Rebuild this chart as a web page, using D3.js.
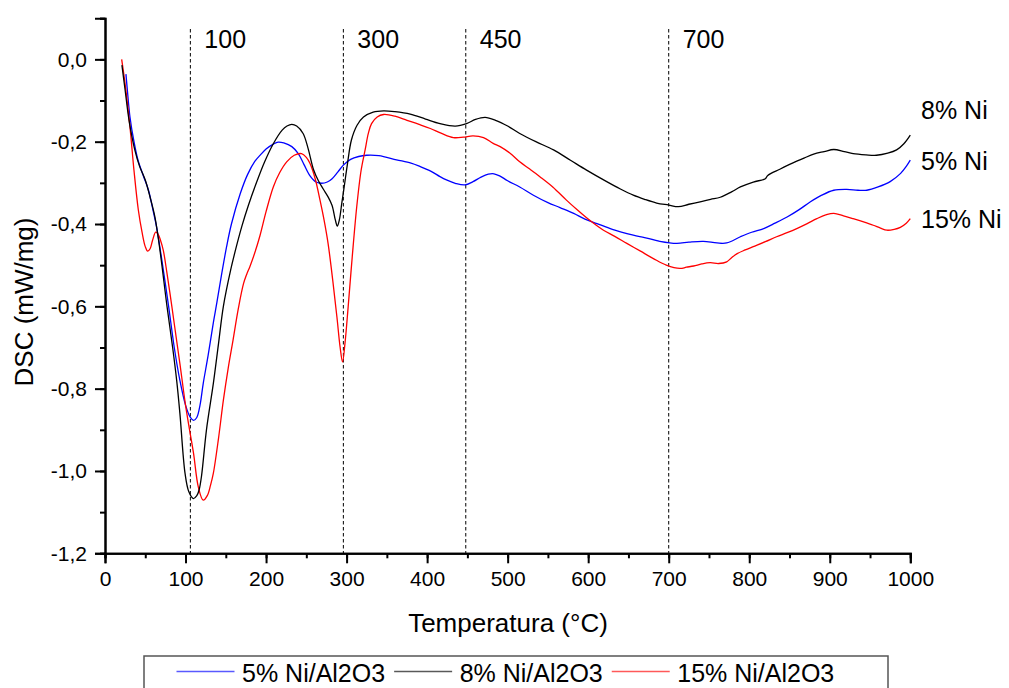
<!DOCTYPE html>
<html>
<head>
<meta charset="utf-8">
<script src="https://cdn.jsdelivr.net/npm/d3@7"></script>
<style>
  html, body { margin: 0; padding: 0; background: #fff; }
  svg { display: block; font-family: "Liberation Sans", Arial, Helvetica, sans-serif; }
</style>
</head>
<body>
<svg id="chart" width="1009" height="688"></svg>
<script>
// DSC curves, temperature (°C) vs heat flow (mW/mg)
const temp5 = [26, 28, 31, 36, 41, 48, 54, 60, 64, 70, 79, 86, 93, 100, 106, 110, 114, 118, 122, 128, 134.5, 139, 145, 151, 157, 168, 177, 186, 193, 200, 209, 215, 222, 232, 240, 247, 254.6, 262, 269, 276, 282, 289, 296, 305, 315, 325, 340, 362, 380, 391, 405, 416, 424, 435, 447, 457, 467, 476, 483, 490, 500, 515, 532, 550, 565, 582, 596, 611, 630, 656, 670, 689, 710, 725, 743, 760, 772, 789, 803, 818, 832, 847, 862, 876, 890, 905, 921, 935, 946, 960, 975, 988, 995, 1000];
const dsc5 = [-0.036, -0.08, -0.14, -0.20, -0.245, -0.285, -0.318, -0.37, -0.407, -0.48, -0.60, -0.70, -0.78, -0.84, -0.870, -0.877, -0.87, -0.84, -0.787, -0.72, -0.64, -0.59, -0.52, -0.455, -0.40, -0.326, -0.28, -0.248, -0.232, -0.218, -0.206, -0.201, -0.203, -0.212, -0.229, -0.255, -0.283, -0.298, -0.301, -0.298, -0.29, -0.274, -0.257, -0.243, -0.236, -0.233, -0.234, -0.244, -0.252, -0.26, -0.272, -0.285, -0.293, -0.301, -0.305, -0.297, -0.286, -0.279, -0.278, -0.283, -0.295, -0.31, -0.33, -0.348, -0.36, -0.374, -0.388, -0.399, -0.413, -0.427, -0.433, -0.442, -0.447, -0.444, -0.442, -0.446, -0.446, -0.431, -0.42, -0.411, -0.398, -0.383, -0.365, -0.346, -0.33, -0.318, -0.316, -0.318, -0.318, -0.31, -0.297, -0.277, -0.26, -0.245];

const temp8 = [21, 25, 30, 37, 43, 50, 56, 62, 68, 77, 84, 89, 93, 99.4, 104, 109.7, 114, 117, 120, 126, 134.5, 141, 147, 156, 163.5, 170, 178, 188, 198, 209, 220, 226, 232, 238, 246, 252, 259, 265, 271, 277, 282, 286, 288.5, 291, 294, 297, 301, 306, 313, 321, 333, 346, 360, 379, 398, 416, 435, 449, 460, 472, 485, 500, 515, 535, 557, 578, 598, 623, 640, 656, 670, 685, 700, 712, 725, 739, 752, 764, 778, 789, 805, 820, 823, 838, 855, 868, 880, 893, 905, 918, 929, 945, 958, 972, 983, 992, 1000];
const dsc8 = [-0.014, -0.075, -0.15, -0.22, -0.26, -0.293, -0.335, -0.383, -0.46, -0.60, -0.70, -0.78, -0.86, -1.006, -1.05, -1.067, -1.06, -1.045, -1.01, -0.90, -0.788, -0.69, -0.60, -0.512, -0.452, -0.405, -0.355, -0.30, -0.25, -0.205, -0.172, -0.162, -0.158, -0.162, -0.18, -0.215, -0.268, -0.295, -0.315, -0.334, -0.355, -0.39, -0.405, -0.39, -0.35, -0.31, -0.255, -0.196, -0.16, -0.14, -0.128, -0.125, -0.127, -0.133, -0.145, -0.156, -0.162, -0.156, -0.146, -0.141, -0.148, -0.162, -0.18, -0.20, -0.22, -0.245, -0.269, -0.297, -0.315, -0.33, -0.34, -0.349, -0.354, -0.358, -0.352, -0.346, -0.34, -0.335, -0.322, -0.31, -0.298, -0.29, -0.282, -0.267, -0.251, -0.24, -0.23, -0.224, -0.219, -0.224, -0.229, -0.232, -0.233, -0.228, -0.22, -0.205, -0.184];

const temp15 = [20.7, 25, 31, 36, 41.4, 46, 50, 53, 56, 59, 63, 66, 69, 72.4, 77, 83, 88, 93, 100, 105, 110, 116, 122, 127, 131, 134.5, 141, 147, 153, 159, 165.6, 172, 176, 180, 186, 192.5, 200, 209, 217, 225.6, 235, 244, 250, 254.6, 261, 267, 272, 277, 283, 288, 292, 295, 298, 302, 307, 312.6, 318, 323, 327, 331, 338, 346, 360, 375, 390, 404, 418, 432.6, 445, 457, 470, 482, 490.7, 503, 515, 527, 540, 556, 573, 586, 598, 608, 619, 633, 648, 665, 681, 697, 714, 722, 731, 741, 751.5, 762, 772, 778, 785, 795, 805, 820, 834, 847, 859, 872, 884, 895, 905, 917, 929, 942, 954, 963, 971, 980, 987.6, 995, 1000];
const dsc15 = [0.0, -0.06, -0.164, -0.27, -0.366, -0.42, -0.455, -0.466, -0.46, -0.44, -0.42, -0.425, -0.44, -0.464, -0.52, -0.60, -0.67, -0.739, -0.84, -0.90, -0.958, -1.04, -1.071, -1.06, -1.035, -1.006, -0.92, -0.828, -0.75, -0.682, -0.605, -0.545, -0.522, -0.503, -0.47, -0.428, -0.37, -0.31, -0.275, -0.249, -0.233, -0.229, -0.238, -0.253, -0.29, -0.342, -0.39, -0.447, -0.54, -0.626, -0.70, -0.735, -0.69, -0.60, -0.48, -0.358, -0.27, -0.22, -0.18, -0.156, -0.14, -0.134, -0.138, -0.148, -0.158, -0.168, -0.18, -0.19, -0.189, -0.186, -0.19, -0.204, -0.212, -0.228, -0.249, -0.266, -0.285, -0.31, -0.342, -0.365, -0.385, -0.40, -0.415, -0.43, -0.447, -0.466, -0.484, -0.5, -0.508, -0.505, -0.502, -0.497, -0.494, -0.496, -0.492, -0.482, -0.472, -0.463, -0.455, -0.443, -0.431, -0.421, -0.411, -0.399, -0.387, -0.378, -0.374, -0.38, -0.387, -0.395, -0.403, -0.41, -0.415, -0.413, -0.408, -0.398, -0.387];

const seriesNames = ["5% Ni/Al2O3", "8% Ni/Al2O3", "15% Ni/Al2O3"];
const endLabels = ["5% Ni", "8% Ni", "15% Ni"];
const endLabelValues = [-0.27, -0.145, -0.41];   // vertical anchor of each right-hand label
const seriesColors = ["#0000ff", "#000000", "#ff0000"];

// reference temperatures marked with dashed lines
const markerTemps = [106, 296, 448, 700];
const markerLabels = ["100", "300", "450", "700"];

const xTicksMajor = [0, 100, 200, 300, 400, 500, 600, 700, 800, 900, 1000];
const yTicksMajor = [0.0, -0.2, -0.4, -0.6, -0.8, -1.0, -1.2];

const svg = d3.select("#chart");
const x = d3.scaleLinear().domain([0, 1000]).range([105, 910.3]);
const y = d3.scaleLinear().domain([-1.2, 0.1]).range([553.3, 18.2]);
const comma = v => d3.format(".1f")(v).replace(".", ",").replace("−", "-");

// dashed marker lines
const markers = svg.append("g");
markerTemps.forEach((t, i) => {
  markers.append("line")
    .attr("x1", x(t)).attr("x2", x(t))
    .attr("y1", 29).attr("y2", y(-1.2))
    .attr("stroke", "#000").attr("stroke-width", 1)
    .attr("stroke-dasharray", "3.5,2.5");
  markers.append("text")
    .attr("x", x(t) + 14).attr("y", 48)
    .attr("font-size", 25).attr("fill", "#000")
    .text(markerLabels[i]);
});

// curves
const line = d3.line()
  .x(d => x(d[0])).y(d => y(d[1]))
  .curve(d3.curveCatmullRom.alpha(0.5));
const series = [
  d3.zip(temp5, dsc5),
  d3.zip(temp8, dsc8),
  d3.zip(temp15, dsc15)
];
// draw 5%, 15%, then 8% on top
[0, 2, 1].forEach(i => {
  svg.append("path")
    .datum(series[i])
    .attr("fill", "none")
    .attr("stroke", seriesColors[i])
    .attr("stroke-width", 1.3)
    .attr("stroke-linejoin", "round")
    .attr("d", line);
});

// axes
const xAxisMinor = d3.axisBottom(x).tickValues(d3.range(0, 1001, 50)).tickSize(5).tickFormat("");
const xAxis = d3.axisBottom(x).tickValues(xTicksMajor).tickSize(10).tickPadding(8).tickFormat(d3.format("d"));
const yAxisMinor = d3.axisLeft(y).tickValues(d3.range(-12, 2, 1).map(v => v / 10)).tickSize(5).tickFormat("");
const yAxis = d3.axisLeft(y).tickValues(yTicksMajor).tickSize(10).tickPadding(8).tickFormat(comma);

function styleAxis(g) {
  g.select(".domain").attr("stroke", "#000").attr("stroke-width", 2);
  g.selectAll(".tick line").attr("stroke", "#000").attr("stroke-width", 2);
  g.selectAll("text").attr("font-family", "'Liberation Sans', Arial, sans-serif")
    .attr("font-size", 21).attr("fill", "#000");
}

svg.append("g").attr("transform", `translate(0,${y(-1.2)})`).call(xAxisMinor).call(styleAxis);
svg.append("g").attr("transform", `translate(0,${y(-1.2)})`).call(xAxis).call(styleAxis)
  .selectAll(".tick text").attr("dy", "0.71em");
svg.append("g").attr("transform", `translate(${x(0)},0)`).call(yAxisMinor).call(styleAxis);
svg.append("g").attr("transform", `translate(${x(0)},0)`).call(yAxis).call(styleAxis);

// axis titles
svg.append("text")
  .attr("x", 508).attr("y", 632)
  .attr("text-anchor", "middle").attr("font-size", 26).attr("fill", "#000")
  .text("Temperatura (°C)");
svg.append("text")
  .attr("transform", "translate(33,302) rotate(-90)")
  .attr("text-anchor", "middle").attr("font-size", 26).attr("fill", "#000")
  .text("DSC (mW/mg)");

// labels at the right end of the curves
endLabels.forEach((lab, i) => {
  svg.append("text")
    .attr("x", 921).attr("y", y(endLabelValues[i]))
    .attr("font-size", 25).attr("fill", "#000")
    .text(lab);
});

// legend
const legend = svg.append("g");
legend.append("rect")
  .attr("x", 144).attr("y", 656).attr("width", 744).attr("height", 44)
  .attr("fill", "#fff").attr("stroke", "#555").attr("stroke-width", 1.5);
let lx = 176.5;
seriesNames.forEach((name, i) => {
  legend.append("line")
    .attr("x1", lx).attr("x2", lx + 58)
    .attr("y1", 671.5).attr("y2", 671.5)
    .attr("stroke", seriesColors[i]).attr("stroke-opacity", 0.65).attr("stroke-width", 1.3);
  const t = legend.append("text")
    .attr("x", lx + 65.5).attr("y", 682)
    .attr("font-size", 25).attr("fill", "#000")
    .text(name);
  lx = lx + 65.5 + t.node().getComputedTextLength() + 9;
});
</script>
</body>
</html>
